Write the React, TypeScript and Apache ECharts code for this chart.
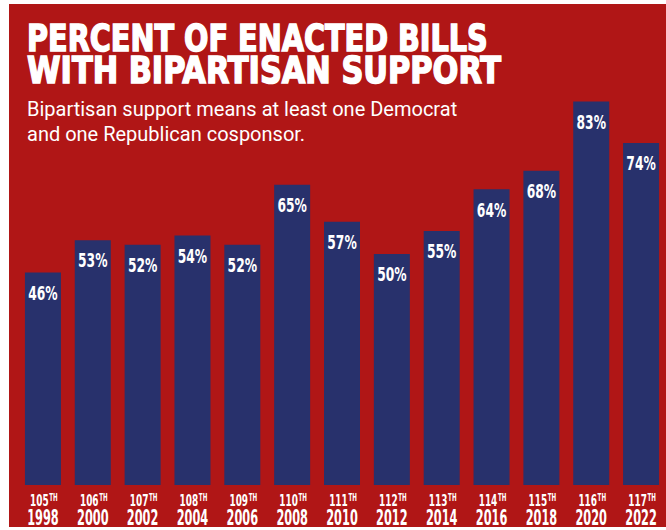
import React, { useEffect, useRef } from "react";
import * as echarts from "echarts";

const congresses = ["105", "106", "107", "108", "109", "110", "111", "112", "113", "114", "115", "116", "117"];
const years = ["1998", "2000", "2002", "2004", "2006", "2008", "2010", "2012", "2014", "2016", "2018", "2020", "2022"];
const bipartisanPct = [46, 53, 52, 54, 52, 65, 57, 50, 55, 64, 68, 83, 74];

const titleLines = ["PERCENT OF ENACTED BILLS", "WITH BIPARTISAN SUPPORT"];
const subtitleLines = ["Bipartisan support means at least one Democrat", "and one Republican cosponsor."];

const RED = "#b01616";
const NAVY = "#28316c";
const COND = "'DejaVu Sans Condensed', 'Liberation Sans Narrow', sans-serif";

export default function App() {
  const ref = useRef<HTMLDivElement>(null);
  useEffect(() => {
    if (!ref.current) return;
    const chart = echarts.init(ref.current, undefined, { renderer: "svg" });
    chart.setOption({
      animation: false,
      backgroundColor: "#ffffff",
      grid: { left: 18, width: 650, top: 23, bottom: 45, containLabel: false },
      xAxis: {
        type: "category",
        data: years,
        axisLine: { show: false },
        axisTick: { show: false },
        splitLine: { show: false },
        axisLabel: { show: false },
      },
      yAxis: {
        type: "value",
        min: 0,
        max: 100,
        show: false,
        splitLine: { show: false },
      },
      graphic: [
        { type: "rect", z: -10, shape: { x: 9, y: 4, width: 660, height: 523 }, style: { fill: RED } },
        {
          type: "text", x: 27, y: 37.5, z: 10, scaleX: 0.84,
          style: { text: titleLines[0], fill: "#fff", stroke: "#fff", lineWidth: 1.5, font: `bold 38px ${COND}`, textVerticalAlign: "middle" },
        },
        {
          type: "text", x: 27, y: 69.5, z: 10, scaleX: 0.89,
          style: { text: titleLines[1], fill: "#fff", stroke: "#fff", lineWidth: 1.5, font: `bold 38px ${COND}`, textVerticalAlign: "middle" },
        },
        {
          type: "text", x: 27, y: 109, z: 10,
          style: { text: subtitleLines[0], fill: "#fff", font: `20px Roboto, 'Noto Sans', sans-serif`, textVerticalAlign: "middle" },
        },
        {
          type: "text", x: 27, y: 134, z: 10,
          style: { text: subtitleLines[1], fill: "#fff", font: `20px Roboto, 'Noto Sans', sans-serif`, textVerticalAlign: "middle" },
        },
      ],
      series: [
        {
          type: "bar",
          data: bipartisanPct,
          barWidth: 36,
          itemStyle: { color: NAVY },
          label: { show: false },
        },
        {
          type: "custom",
          name: "bar labels",
          data: bipartisanPct.map((v, i) => [i, v]),
          z: 5,
          renderItem: (params: any, api: any) => {
            const p = api.coord([api.value(0), api.value(1)]);
            return {
              type: "text",
              x: p[0],
              y: p[1] + 21,
              scaleX: 0.72,
              style: {
                text: `${api.value(1)}%`,
                fill: "#fff",
                font: `bold 19px ${COND}`,
                align: "center",
                verticalAlign: "middle",
              },
            };
          },
        },
        {
          type: "custom",
          name: "axis labels",
          data: years.map((y, i) => [i, 0]),
          z: 5,
          clip: false,
          renderItem: (params: any, api: any) => {
            const idx = params.dataIndex;
            const p = api.coord([api.value(0), 0]);
            return {
              type: "group",
              children: [
                {
                  type: "text",
                  x: p[0] + 1,
                  y: p[1] + 15.5,
                  scaleX: 0.62,
                  style: {
                    text: `{n|${congresses[idx]}}{s|TH}`,
                    align: "center",
                    verticalAlign: "middle",
                    rich: {
                      n: { fill: "#fff", font: `bold 16px ${COND}`, lineHeight: 16 },
                      s: { fill: "#fff", font: `bold 10px ${COND}`, lineHeight: 10, verticalAlign: "top", padding: [0, 0, 0, 1] },
                    },
                  },
                },
                {
                  type: "text",
                  x: p[0],
                  y: p[1] + 32.5,
                  scaleX: 0.6,
                  style: {
                    text: years[idx],
                    fill: "#fff",
                    font: `bold 21px ${COND}`,
                    align: "center",
                    verticalAlign: "middle",
                  },
                },
              ],
            };
          },
        },
      ],
    });
    return () => chart.dispose();
  }, []);
  return <div ref={ref} style={{ position: "absolute", left: 0, top: 0, width: 666, height: 530 }} />;
}
